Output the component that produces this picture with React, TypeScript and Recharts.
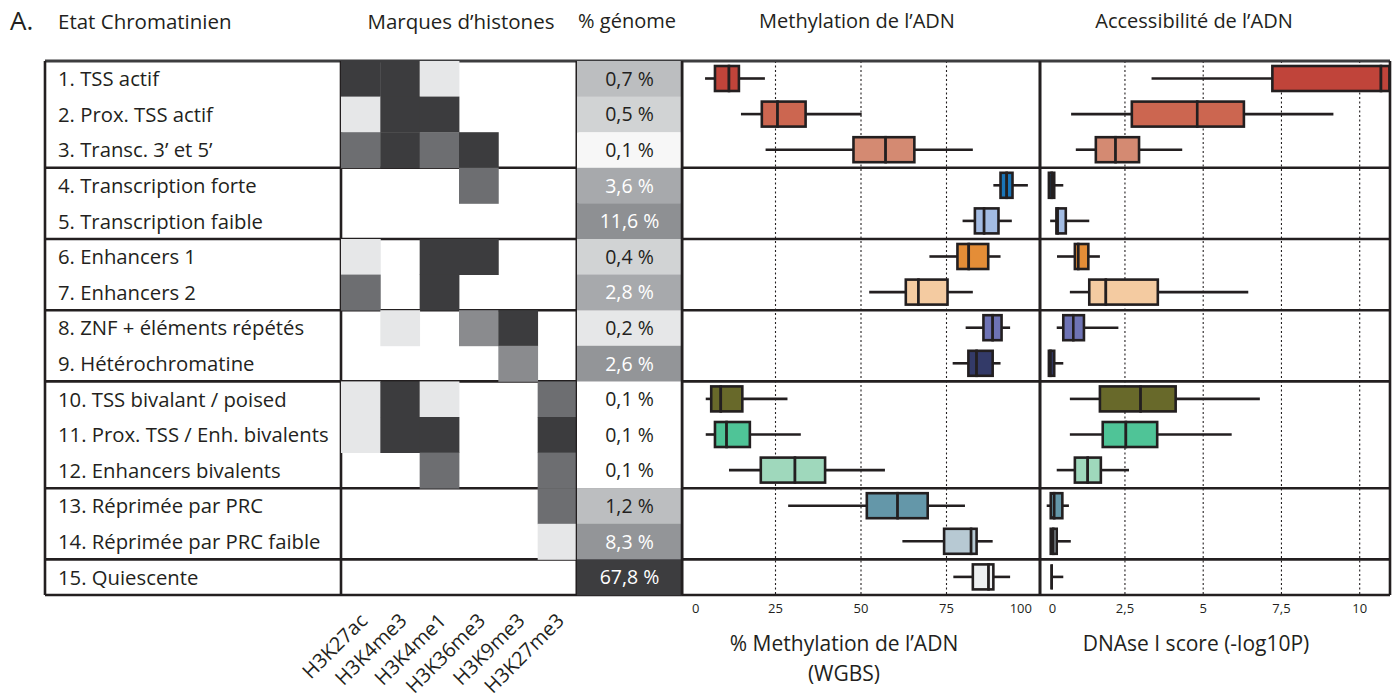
import React from "react";
import {
  ScatterChart,
  Scatter,
  BarChart,
  Bar,
  XAxis,
  YAxis,
  ReferenceLine,
  CartesianGrid,
} from "recharts";

// ---- data ----
const states = [
  "1. TSS actif",
  "2. Prox. TSS actif",
  "3. Transc. 3’ et 5’",
  "4. Transcription forte",
  "5. Transcription faible",
  "6. Enhancers 1",
  "7. Enhancers 2",
  "8. ZNF + éléments répétés",
  "9. Hétérochromatine",
  "10. TSS bivalant / poised",
  "11. Prox. TSS / Enh. bivalents",
  "12. Enhancers bivalents",
  "13. Réprimée par PRC",
  "14. Réprimée par PRC faible",
  "15. Quiescente",
];

const marks = ["H3K27ac", "H3K4me3", "H3K4me1", "H3K36me3", "H3K9me3", "H3K27me3"];

// 0 = absent ... 4 = très fort
const markLevels = [
  [4, 4, 1, 0, 0, 0],
  [1, 4, 4, 0, 0, 0],
  [3, 4, 3, 4, 0, 0],
  [0, 0, 0, 3, 0, 0],
  [0, 0, 0, 0, 0, 0],
  [1, 0, 4, 4, 0, 0],
  [3, 0, 4, 0, 0, 0],
  [0, 1, 0, 2, 4, 0],
  [0, 0, 0, 0, 2, 0],
  [1, 4, 1, 0, 0, 3],
  [1, 4, 4, 0, 0, 4],
  [0, 0, 3, 0, 0, 3],
  [0, 0, 0, 0, 0, 3],
  [0, 0, 0, 0, 0, 1],
  [0, 0, 0, 0, 0, 0],
];

const genomePct = [0.7, 0.5, 0.1, 3.6, 11.6, 0.4, 2.8, 0.2, 2.6, 0.1, 0.1, 0.1, 1.2, 8.3, 67.8];
const genomeShade = [
  "#bcbec0", "#d1d3d4", "#f7f7f7", "#a7a9ac", "#8e9093",
  "#d1d3d4", "#a7a9ac", "#e6e7e8", "#939598", "#ffffff",
  "#ffffff", "#ffffff", "#bcbec0", "#939598", "#3d3d3f",
];

const boxColors = [
  "#c0443a", "#cc6650", "#d48a72", "#1a75b8", "#a3bce3",
  "#e48d37", "#f4cba1", "#6e73b5", "#333a68", "#68692a",
  "#4fc497", "#9fd8bc", "#6497a9", "#b7c9d3", "#eef0f2",
];

// % methylation (WGBS)
const methMin = [4.4, 14.9, 22.1, 88.7, 79.7, 70.0, 52.4, 80.6, 76.8, 4.6, 4.6, 11.4, 28.7, 62.1, 77.0];
const methQ1 = [7.3, 21.0, 47.8, 90.8, 83.3, 78.2, 63.1, 85.8, 81.4, 6.2, 7.3, 20.7, 51.7, 74.3, 82.7];
const methMed = [11.4, 25.6, 57.2, 92.6, 86.0, 81.5, 66.8, 88.5, 83.8, 9.0, 10.7, 30.7, 60.7, 82.2, 87.3];
const methQ3 = [14.3, 33.8, 65.6, 94.3, 90.2, 87.2, 75.3, 91.1, 88.5, 15.3, 17.5, 39.5, 69.5, 83.8, 88.7];
const methMax = [21.9, 50.2, 82.7, 98.8, 94.1, 90.8, 82.7, 93.6, 90.8, 28.5, 32.4, 57.0, 80.4, 88.5, 93.6];

// DNAse I score (-log10P)
const dnaMin = [3.35, 0.78, 0.93, 0.07, 0.11, 0.33, 0.74, 0.32, 0.07, 0.74, 0.74, 0.32, 0.0, 0.11, 0.16];
const dnaQ1 = [7.21, 2.72, 1.57, 0.07, 0.31, 0.9, 1.36, 0.53, 0.07, 1.7, 1.79, 0.9, 0.13, 0.13, 0.16];
const dnaMed = [10.68, 4.81, 2.2, 0.16, 0.35, 1.01, 1.89, 0.85, 0.12, 3.0, 2.53, 1.31, 0.24, 0.21, 0.16];
const dnaQ3 = [10.95, 6.3, 2.95, 0.24, 0.61, 1.33, 3.55, 1.19, 0.24, 4.12, 3.53, 1.73, 0.5, 0.32, 0.16];
const dnaMax = [10.95, 9.16, 4.33, 0.53, 1.36, 1.7, 6.44, 2.29, 0.53, 6.81, 5.91, 2.63, 0.71, 0.77, 0.53];

const methTicks = [0, 25, 50, 75, 100];
const dnaTicks = [0, 2.5, 5, 7.5, 10];
const methGrid = [25, 50, 75];
const dnaGrid = [2.5, 5, 7.5, 10];
const groupBreaks = [3.5, 5.5, 7.5, 9.5, 12.5, 14.5];

// ---- layout ----
const INK = "#231f20";
const FONT = "'Open Sans', sans-serif";
const LEVEL_FILL = ["#ffffff", "#e6e7e8", "#8a8b8e", "#6d6e71", "#3c3c3e"];
const TOP = 61;
const ROW_H = 35.6;
const PLOT_H = ROW_H * states.length;
const PAD = 4;
const LINE_W = 2.6;

const LABEL_LEFT = 45;
const HEAT_LEFT = 341;
const HEAT_RIGHT = 577;
const GEN_RIGHT = 682;
const METH_RIGHT = 1040;
const DNA_RIGHT = 1390;

const COL_W = (HEAT_RIGHT - HEAT_LEFT) / marks.length;
const LABEL_UNITS = (HEAT_LEFT - LABEL_LEFT) / COL_W;
const GEN_W = GEN_RIGHT - HEAT_RIGHT;
const methDomain: [number, number] = [-2.34, 102.34];
const dnaDomain: [number, number] = [-0.214, 10.968];
const rowDomain: [number, number] = [0.5, 15.5];
const rows = states.map((_, i) => i + 1);

const heatCells = markLevels.flatMap((lv, r) =>
  lv.map((level, c) => ({ col: c + 0.5, row: r + 1, level })).filter((d) => d.level > 0)
);

const genomeData = genomePct.map((v, i) => ({ x: 0.5, row: i + 1, v, shade: genomeShade[i] }));

const boxData = (mins: number[], q1: number[], med: number[], q3: number[], maxs: number[]) =>
  rows.map((row, i) => ({
    row,
    color: boxColors[i],
    base: mins[i],
    lowWhisker: q1[i] - mins[i],
    lowBox: med[i] - q1[i],
    highBox: q3[i] - med[i],
    highWhisker: maxs[i] - q3[i],
  }));

const methData = boxData(methMin, methQ1, methMed, methQ3, methMax);
const dnaData = boxData(dnaMin, dnaQ1, dnaMed, dnaQ3, dnaMax);

const fmt = (v: number | string) => String(v).replace(".", ",");

// ---- shapes & ticks ----
const HeatCell = (p: any) => (
  <rect
    x={p.cx - COL_W / 2}
    y={p.cy - ROW_H / 2}
    width={COL_W + 0.4}
    height={ROW_H + 0.4}
    fill={LEVEL_FILL[p.payload.level]}
  />
);

const lightness = (hex: string) => parseInt(hex.slice(1, 3), 16) / 255;

const GenomeCell = (p: any) => (
  <g>
    <rect x={p.cx - GEN_W / 2} y={p.cy - ROW_H / 2} width={GEN_W} height={ROW_H + 0.4} fill={p.payload.shade} />
    <text
      x={p.cx}
      y={p.cy}
      dy="0.36em"
      textAnchor="middle"
      fontSize={19.5}
      fontFamily={FONT}
      fill={lightness(p.payload.shade) > 0.7 ? INK : "#ffffff"}
    >
      {fmt(p.payload.v.toFixed(1))} %
    </text>
  </g>
);

const StateTick = ({ x, y, payload }: any) => (
  <text x={x} y={y} dy="0.36em" textAnchor="start" fontSize={20.3} fontFamily={FONT} fill={INK}>
    {states[payload.value - 1]}
  </text>
);

const MarkTick = ({ x, y, payload }: any) => {
  const ax = x + 8;
  const ay = y + 19;
  return (
    <text
      x={ax}
      y={ay}
      transform={`rotate(-45 ${ax} ${ay})`}
      textAnchor="end"
      fontSize={20}
      fontFamily={FONT}
      fill={INK}
    >
      {marks[Math.round(payload.value - 0.5)]}
    </text>
  );
};

const makeValueTick = (count: number, endLast: boolean) => ({ x, y, payload, index }: any) => {
  const anchor = index === 0 ? "start" : endLast && index === count - 1 ? "end" : "middle";
  return (
    <text x={index === 0 ? x + 2 : x} y={y} dy="0.75em" textAnchor={anchor} fontSize={13} fontFamily={FONT} fill={INK}>
      {fmt(payload.value)}
    </text>
  );
};

const Whisker = (p: any) => (
  <line x1={p.x} x2={p.x + p.width} y1={p.y + p.height / 2} y2={p.y + p.height / 2} stroke={INK} strokeWidth={LINE_W} />
);

const BoxPart = (p: any) =>
  p.width < 1 ? (
    <line x1={p.x} x2={p.x} y1={p.y} y2={p.y + p.height} stroke={INK} strokeWidth={LINE_W} />
  ) : (
    <rect x={p.x} y={p.y} width={p.width} height={p.height} fill={p.payload.color} stroke={INK} strokeWidth={LINE_W} />
  );

const tableLines = (xEdges: number[]) => [
  ...groupBreaks.map((y) => (
    <ReferenceLine key={`h${y}`} y={y} stroke={INK} strokeWidth={LINE_W} ifOverflow="visible" />
  )),
  <ReferenceLine key="top" y={rowDomain[0]} stroke="#3d3d3f" strokeWidth={3} ifOverflow="visible" />,
  <ReferenceLine key="bottom" y={rowDomain[1]} stroke={INK} strokeWidth={LINE_W} ifOverflow="visible" />,
  ...xEdges.map((x) => (
    <ReferenceLine key={`v${x}`} x={x} stroke={INK} strokeWidth={LINE_W} ifOverflow="visible" />
  )),
];

const BoxPanel = ({
  data,
  domain,
  ticks,
  grid,
  left,
  width,
  endLast,
}: {
  data: any[];
  domain: [number, number];
  ticks: number[];
  grid: number[];
  left: number;
  width: number;
  endLast: boolean;
}) => (
  <div style={{ position: "absolute", left: left - PAD, top: TOP - PAD }}>
    <BarChart
      layout="vertical"
      width={width + 2 * PAD}
      height={PLOT_H + PAD + 34}
      data={data}
      margin={{ top: PAD, right: PAD, bottom: 0, left: PAD }}
    >
      <CartesianGrid horizontal={false} verticalValues={grid} stroke={INK} strokeWidth={1.1} strokeDasharray="2 2.5" />
      <XAxis
        type="number"
        domain={domain}
        allowDataOverflow
        ticks={ticks}
        interval={0}
        axisLine={false}
        tickLine={false}
        height={34}
        tick={makeValueTick(ticks.length, endLast)}
      />
      <YAxis type="number" dataKey="row" domain={rowDomain} hide ticks={rows} allowDataOverflow />
      <Bar dataKey="base" stackId="b" fill="none" barSize={25} isAnimationActive={false} />
      <Bar dataKey="lowWhisker" stackId="b" barSize={25} shape={Whisker} isAnimationActive={false} />
      <Bar dataKey="lowBox" stackId="b" barSize={25} shape={BoxPart} isAnimationActive={false} />
      <Bar dataKey="highBox" stackId="b" barSize={25} shape={BoxPart} isAnimationActive={false} />
      <Bar dataKey="highWhisker" stackId="b" barSize={25} shape={Whisker} isAnimationActive={false} />
      {tableLines([domain[0], domain[1]])}
    </BarChart>
  </div>
);

const title = (text: string, x: number, y: number, size = 20, center = true) => (
  <div
    style={{
      position: "absolute",
      left: x,
      top: y,
      transform: center ? "translateX(-50%)" : undefined,
      fontFamily: FONT,
      fontSize: size,
      lineHeight: 1,
      color: INK,
      whiteSpace: "nowrap",
    }}
  >
    {text}
  </div>
);

export default function App() {
  return (
    <div style={{ position: "absolute", left: 0, top: 0, width: 1397, height: 700, background: "#fff" }}>
      {title("A.", 10, 7, 26, false)}
      {title("Etat Chromatinien", 58, 11, 20.5, false)}
      {title("Marques d’histones", 461, 11, 20.5)}
      {title("% génome", 627, 11, 20)}
      {title("Methylation de l’ADN", 857, 11, 20)}
      {title("Accessibilité de l’ADN", 1194, 11, 20)}

      {/* chromatin states + histone marks */}
      <div style={{ position: "absolute", left: LABEL_LEFT - PAD, top: TOP - PAD }}>
        <ScatterChart
          width={HEAT_RIGHT - LABEL_LEFT + 2 * PAD}
          height={PLOT_H + PAD + 110}
          margin={{ top: PAD, right: PAD, bottom: 0, left: PAD }}
        >
          <XAxis
            type="number"
            dataKey="col"
            domain={[-LABEL_UNITS, marks.length]}
            allowDataOverflow
            ticks={marks.map((_, i) => i + 0.5)}
            interval={0}
            tick={<MarkTick />}
            axisLine={false}
            tickLine={false}
            height={110}
          />
          <YAxis
            type="number"
            dataKey="row"
            domain={rowDomain}
            reversed
            allowDataOverflow
            ticks={rows}
            interval={0}
            mirror
            tick={<StateTick />}
            axisLine={false}
            tickLine={false}
            tickSize={6}
            tickMargin={7}
          />
          <Scatter data={heatCells} shape={HeatCell} isAnimationActive={false} />
          {tableLines([-LABEL_UNITS, 0, marks.length])}
        </ScatterChart>
      </div>

      {/* % genome */}
      <div style={{ position: "absolute", left: HEAT_RIGHT - PAD, top: TOP - PAD }}>
        <ScatterChart
          width={GEN_W + 2 * PAD}
          height={PLOT_H + 2 * PAD}
          margin={{ top: PAD, right: PAD, bottom: PAD, left: PAD }}
        >
          <XAxis type="number" dataKey="x" domain={[0, 1]} hide />
          <YAxis type="number" dataKey="row" domain={rowDomain} reversed hide />
          <Scatter data={genomeData} shape={GenomeCell} isAnimationActive={false} />
          {tableLines([0, 1])}
        </ScatterChart>
      </div>

      <BoxPanel
        data={methData}
        domain={methDomain}
        ticks={methTicks}
        grid={methGrid}
        left={GEN_RIGHT}
        width={METH_RIGHT - GEN_RIGHT}
        endLast
      />
      <BoxPanel
        data={dnaData}
        domain={dnaDomain}
        ticks={dnaTicks}
        grid={dnaGrid}
        left={METH_RIGHT}
        width={DNA_RIGHT - METH_RIGHT}
        endLast={false}
      />

      {title("% Methylation de l’ADN", 844, 633, 21)}
      {title("(WGBS)", 844, 663, 21)}
      {title("DNAse I score (-log10P)", 1196, 633, 21)}
    </div>
  );
}
